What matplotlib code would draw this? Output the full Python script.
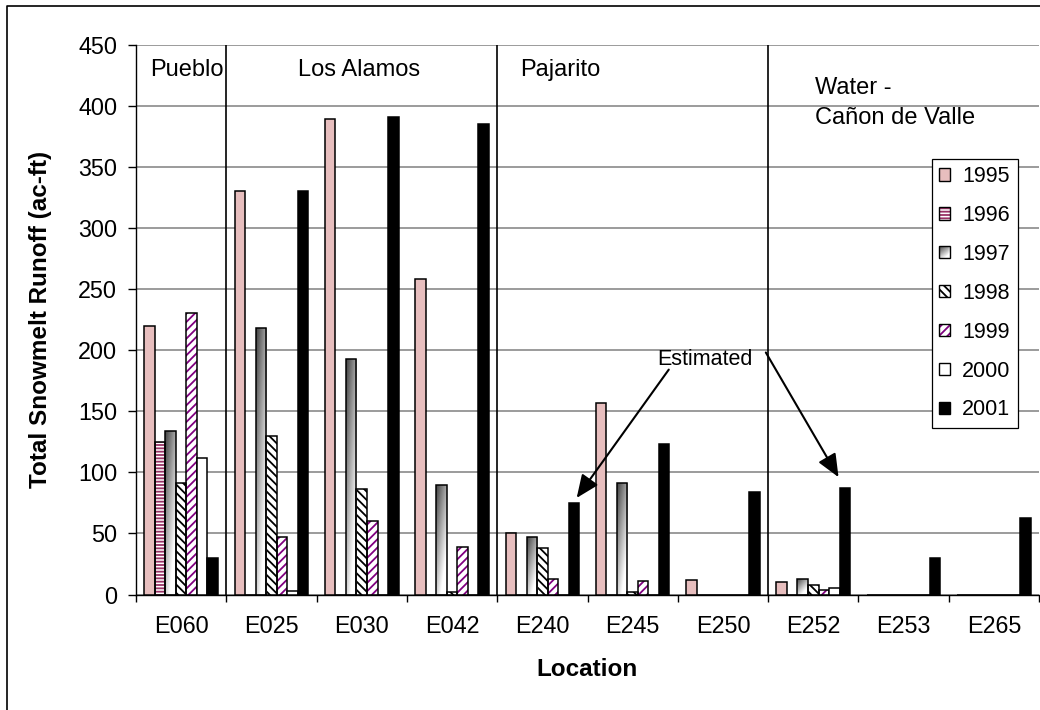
import numpy as np
import matplotlib
matplotlib.use("Agg")
import matplotlib.pyplot as plt
from matplotlib.patches import Rectangle
from matplotlib.legend_handler import HandlerBase
from matplotlib.lines import Line2D

# ---- data -------------------------------------------------------------
locations = ["E060", "E025", "E030", "E042", "E240",
             "E245", "E250", "E252", "E253", "E265"]
years = ["1995", "1996", "1997", "1998", "1999", "2000", "2001"]

runoff_1995 = [220, 330, 389, 258, 50, 157, 12, 10, 0, 0]
runoff_1996 = [125, 0, 0, 0, 0, 0, 0, 0, 0, 0]
runoff_1997 = [134, 218, 193, 90, 47, 91, 0, 12.5, 0, 0]
runoff_1998 = [91, 130, 86, 2, 38, 2, 0, 8, 0, 0]
runoff_1999 = [230, 47, 60, 39, 12.5, 11, 0, 3.5, 0, 0]
runoff_2000 = [112, 3, 0, 0, 0, 0, 0, 5, 0, 0]
runoff_2001 = [30, 330, 391, 385, 75, 123, 84, 87, 30, 63]

region_names = ["Pueblo", "Los Alamos", "Pajarito", "Water -", "Cañon de Valle"]
region_bounds = [0.5, 3.5, 6.5]

series = [runoff_1995, runoff_1996, runoff_1997, runoff_1998,
          runoff_1999, runoff_2000, runoff_2001]

# ---- styling ----------------------------------------------------------
plt.rcParams["font.family"] = ["Liberation Sans", "DejaVu Sans"]
plt.rcParams["hatch.linewidth"] = 1.3

styles = [
    dict(face="#e7bebe"),
    dict(face="white", hatch="-----", hcolor="#993366"),
    dict(gradient=True),
    dict(face="white", hatch="\\\\\\\\", hcolor="black"),
    dict(face="white", hatch="////", hcolor="#800080"),
    dict(face="white"),
    dict(face="black"),
]

EDGE_LW = 1.1
TICK_FS = 16.8
TEXT_FS = 17
TITLE_FS = 17.5


def shade(u, v):
    """Gray level of the corner gradient: dark top-left, white bottom-right."""
    return 0.25 + 0.75 * np.clip(0.55 * u + 0.75 * v, 0, 1)


class SwatchHandler(HandlerBase):
    def __init__(self, style):
        super().__init__()
        self.style = style

    def create_artists(self, legend, orig_handle, xdescent, ydescent,
                       width, height, fontsize, trans):
        st = self.style
        x0, y0 = -xdescent, -ydescent
        arts = []
        if st.get("gradient"):
            n = 12
            for i in range(n):
                for j in range(n):
                    u = (i + 0.5) / n
                    v = 1 - (j + 0.5) / n
                    g = float(shade(u, v))
                    arts.append(Rectangle((x0 + i * width / n, y0 + j * height / n),
                                          width / n, height / n,
                                          facecolor=(g, g, g), edgecolor="none",
                                          lw=0, transform=trans))
        elif "hatch" in st:
            arts.append(Rectangle((x0, y0), width, height, facecolor=st["face"],
                                  edgecolor=st["hcolor"], hatch=st["hatch"],
                                  lw=0, transform=trans))
        else:
            arts.append(Rectangle((x0, y0), width, height, facecolor=st["face"],
                                  edgecolor="none", lw=0, transform=trans))
        arts.append(Rectangle((x0, y0), width, height, facecolor="none",
                              edgecolor="black", lw=1.0, transform=trans))
        return arts


# ---- figure -----------------------------------------------------------
W, H = 1040, 710
fig = plt.figure(figsize=(W / 100, H / 100), dpi=100)
ax = fig.add_axes([136 / W, 115.5 / H, 903 / W, 550 / H])

x = np.arange(len(locations))
bw = 0.1163

for k, (vals, st) in enumerate(zip(series, styles)):
    pos = x + (k - 3) * bw
    if st.get("gradient"):
        outl = ax.bar(pos, vals, bw, facecolor="none", edgecolor="black",
                      linewidth=EDGE_LW, zorder=3)
        for r in outl:
            h = r.get_height()
            if h <= 0:
                continue
            uu = np.linspace(0, 1, 32)[None, :]
            vv = np.linspace(0, 1, 256)[:, None]
            g = shade(uu, vv)
            img = ax.imshow(np.dstack([g, g, g]),
                            extent=(r.get_x(), r.get_x() + r.get_width(),
                                    r.get_y(), r.get_y() + h),
                            origin="upper", aspect="auto",
                            interpolation="bilinear", zorder=2.5)
            img.set_clip_path(r)
    elif "hatch" in st:
        ax.bar(pos, vals, bw, facecolor=st["face"], edgecolor=st["hcolor"],
               hatch=st["hatch"], linewidth=0, zorder=2)
        ax.bar(pos, vals, bw, facecolor="none", edgecolor="black",
               linewidth=EDGE_LW, zorder=3)
    else:
        ax.bar(pos, vals, bw, facecolor=st["face"], edgecolor="black",
               linewidth=EDGE_LW, zorder=3)

ax.set_xlim(-0.5, len(locations) - 0.5)
ax.set_ylim(0, 450)
ax.set_yticks(np.arange(0, 451, 50))
ax.yaxis.grid(True, color="#808080", linewidth=1.1)
ax.set_axisbelow(True)

for side in ("top", "right"):
    ax.spines[side].set_visible(False)
for side in ("left", "bottom"):
    ax.spines[side].set_color("black")
    ax.spines[side].set_linewidth(1.0)

ax.set_xticks(x, labels=locations)
ax.set_xticks(np.arange(-0.5, len(locations)), minor=True)
ax.tick_params(axis="x", which="major", length=0, pad=15, labelsize=TICK_FS)
ax.tick_params(axis="x", which="minor", length=5, width=1, color="black")
ax.tick_params(axis="y", length=5.5, width=1, pad=8, labelsize=TICK_FS)

# region separators and names
ax.vlines(region_bounds, 0, 450, colors="black", linewidth=1.2, zorder=1.5)
ax.text(-0.345, 429, region_names[0], fontsize=TEXT_FS, va="center", ha="left")
ax.text(1.29, 429, region_names[1], fontsize=TEXT_FS, va="center", ha="left")
ax.text(3.75, 429, region_names[2], fontsize=TEXT_FS, va="center", ha="left")
ax.text(7.02, 414, region_names[3], fontsize=TEXT_FS, va="center", ha="left")
ax.text(7.02, 390, region_names[4], fontsize=TEXT_FS, va="center", ha="left")

# estimated annotations
ax.text(5.80, 192, "Estimated", fontsize=15.5, ha="center", va="center")
arrow_kw = dict(arrowstyle="-|>,head_length=1.4,head_width=0.6",
                color="black", lw=1.5, shrinkA=0, shrinkB=0,
                mutation_scale=10)
ax.annotate("", xy=(4.38, 79), xytext=(5.40, 184), arrowprops=arrow_kw)
ax.annotate("", xy=(7.28, 96), xytext=(6.475, 198), arrowprops=arrow_kw)

ax.set_ylabel("Total Snowmelt Runoff (ac-ft)", fontsize=TITLE_FS,
              fontweight="bold", va="center")
ax.yaxis.set_label_coords(-0.106, 0.5)
ax.set_xlabel("Location", fontsize=TITLE_FS, fontweight="bold", va="center")
ax.xaxis.set_label_coords(0.5, -0.1355)

# legend
proxies = [Rectangle((0, 0), 1, 1) for _ in years]
hmap = {p: SwatchHandler(st) for p, st in zip(proxies, styles)}
leg = ax.legend(proxies, years, handler_map=hmap, loc="upper left",
                bbox_to_anchor=(931.7 / W, 1 - 158.5 / H),
                bbox_transform=fig.transFigure, frameon=True, fancybox=False,
                shadow=False, fontsize=15.5, handlelength=0.5,
                handleheight=0.5, handletextpad=0.55, labelspacing=0.83,
                borderpad=0.36, borderaxespad=0)
frame = leg.get_frame()
frame.set_edgecolor("black")
frame.set_linewidth(0.9)
frame.set_alpha(1)
leg.set_zorder(6)

# chart-area frame
fig.add_artist(Line2D([7 / W, 7 / W, 1.01], [-0.01, 1 - 6 / H, 1 - 6 / H],
                      transform=fig.transFigure, color="black", lw=1.2))

fig.savefig("out.png", dpi=100)
